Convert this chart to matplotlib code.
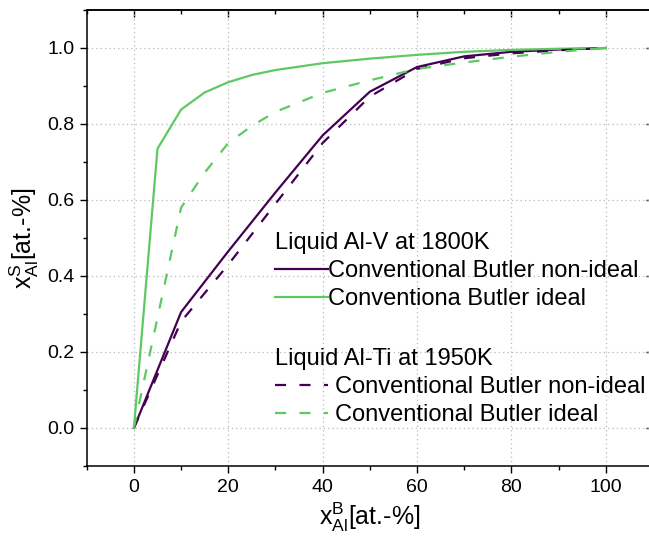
import matplotlib
matplotlib.use("Agg")
import matplotlib.pyplot as plt
from matplotlib.ticker import MultipleLocator

plt.rcParams['font.family'] = ['Liberation Sans', 'DejaVu Sans']
plt.rcParams['mathtext.fontset'] = 'custom'
plt.rcParams['mathtext.rm'] = 'Liberation Sans'
plt.rcParams['mathtext.it'] = 'Liberation Sans:italic'

# ---- data ----
x_alv_ideal = [0, 5, 10, 15, 20, 25, 30, 40, 50, 60, 70, 80, 90, 100]
y_alv_ideal = [0, 0.735, 0.838, 0.883, 0.910, 0.929, 0.942, 0.960, 0.972, 0.982, 0.990, 0.995, 0.998, 1.0]

x_alv_nonideal = [0, 10, 20, 30, 40, 50, 60, 70, 80, 90, 100]
y_alv_nonideal = [0, 0.305, 0.465, 0.620, 0.770, 0.885, 0.950, 0.978, 0.990, 0.996, 1.0]

x_alti_nonideal = [0, 10, 20, 30, 40, 50, 60, 70, 80, 90, 100]
y_alti_nonideal = [0, 0.280, 0.430, 0.590, 0.750, 0.872, 0.945, 0.973, 0.986, 0.994, 1.0]

x_alti_ideal = [0, 10, 15, 20, 25, 30, 40, 50, 60, 70, 80, 90, 100]
y_alti_ideal = [0, 0.580, 0.672, 0.750, 0.795, 0.832, 0.882, 0.915, 0.945, 0.962, 0.977, 0.990, 1.0]

purple = '#440154'
green = '#5ec962'

W, H = 649, 545
fig = plt.figure(figsize=(W / 100, H / 100), dpi=100)
ax = fig.add_axes([86.7 / W, 79 / H, 566.3 / W, 456 / H])

lw = 1.6
l1, = ax.plot(x_alv_nonideal, y_alv_nonideal, color=purple, lw=lw, zorder=3)
l2, = ax.plot(x_alv_ideal, y_alv_ideal, color=green, lw=lw, zorder=3)
l3, = ax.plot(x_alti_nonideal, y_alti_nonideal, color=purple, lw=lw, dashes=(5, 6), zorder=3)
l4, = ax.plot(x_alti_ideal, y_alti_ideal, color=green, lw=lw, dashes=(5, 6), zorder=3)

ax.set_xlim(-10, 110)
ax.set_ylim(-0.1, 1.1)
ax.xaxis.set_major_locator(MultipleLocator(20))
ax.xaxis.set_minor_locator(MultipleLocator(10))
ax.yaxis.set_major_locator(MultipleLocator(0.2))
ax.yaxis.set_minor_locator(MultipleLocator(0.1))
ax.yaxis.set_major_formatter(matplotlib.ticker.FormatStrFormatter('%.1f'))

ax.grid(True, which='major', color='#b8b8b8', linestyle=(0, (1, 2.5)), lw=0.9)
for s in ax.spines.values():
    s.set_linewidth(1.1)

ax.tick_params(which='major', direction='out', length=5, width=1.0, labelsize=14, pad=4)
ax.tick_params(which='minor', direction='out', length=3, width=1.0)

secx = ax.secondary_xaxis('top')
secx.xaxis.set_major_locator(MultipleLocator(20))
secx.xaxis.set_minor_locator(MultipleLocator(10))
secx.tick_params(which='major', direction='in', length=5, width=1.0, labeltop=False)
secx.tick_params(which='minor', direction='in', length=3, width=1.0)
secx.spines['top'].set_linewidth(1.1)

secy = ax.secondary_yaxis('right')
secy.yaxis.set_major_locator(MultipleLocator(0.2))
secy.yaxis.set_minor_locator(MultipleLocator(0.1))
secy.tick_params(which='major', direction='in', length=5, width=1.0, labelright=False)
secy.tick_params(which='minor', direction='in', length=3, width=1.0)
secy.spines['right'].set_linewidth(1.1)

ax.set_xlabel(r'x$^{\mathrm{B}}_{\mathrm{Al}}$[at.-%]', fontsize=18, labelpad=4)
ax.set_ylabel(r'x$^{\mathrm{S}}_{\mathrm{Al}}$[at.-%]', fontsize=18, labelpad=4)

leg1 = ax.legend([l1, l2], ['Conventional Butler non-ideal', 'Conventiona Butler ideal'],
                 title='Liquid Al-V at 1800K', title_fontsize=17, fontsize=17,
                 frameon=False, loc='upper left',
                 bbox_to_anchor=(275 / W, 1 - 232 / H), bbox_transform=fig.transFigure,
                 borderpad=0, borderaxespad=0, handlelength=2.25, handletextpad=0.0,
                 labelspacing=0.25, alignment='left')
ax.add_artist(leg1)
leg2 = ax.legend([l3, l4], ['Conventional Butler non-ideal', 'Conventional Butler ideal'],
                 title='Liquid Al-Ti at 1950K', title_fontsize=17, fontsize=17,
                 frameon=False, loc='upper left',
                 bbox_to_anchor=(275 / W, 1 - 348 / H), bbox_transform=fig.transFigure,
                 borderpad=0, borderaxespad=0, handlelength=2.25, handletextpad=0.3,
                 labelspacing=0.25, alignment='left')

fig.savefig('out.png', dpi=100)
